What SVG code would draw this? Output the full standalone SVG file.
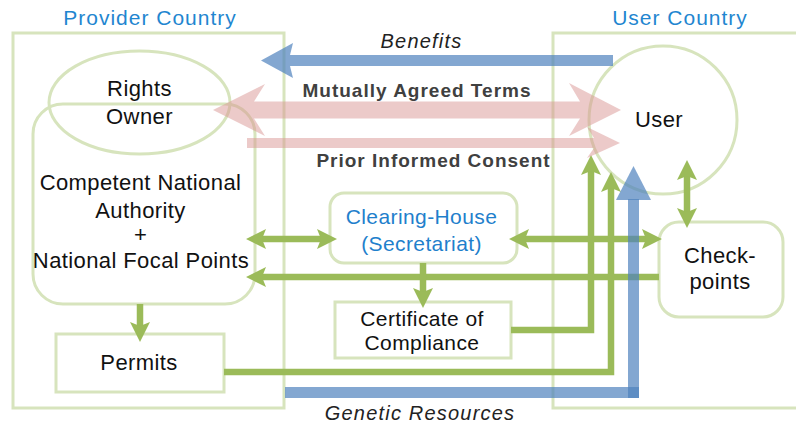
<svg xmlns="http://www.w3.org/2000/svg" width="796" height="427" viewBox="0 0 796 427">
<style>
.box{fill:none;stroke:#d7e4bd;stroke-width:3}
.t{font-family:"Liberation Sans",Arial,sans-serif;font-size:22px;fill:#111;text-anchor:middle;letter-spacing:0.4px}
.s{font-size:21px}
.blue{fill:#1f80cc}
.cty{font-family:"Liberation Sans",Arial,sans-serif;font-size:21px;fill:#1f86d0;text-anchor:middle;letter-spacing:1px}
.lbl{font-family:"Liberation Sans",Arial,sans-serif;font-size:19px;font-weight:bold;fill:#404040;text-anchor:middle;letter-spacing:1px}
.it{font-family:"Liberation Sans",Arial,sans-serif;font-size:20px;font-style:italic;fill:#222;text-anchor:middle;letter-spacing:1.2px}
.g{fill:none;stroke:#9bbb59;stroke-width:6.5}
.pink{fill:#d99594;opacity:0.5}
.bl{fill:#4f81bd;opacity:0.7}
</style>
<defs>
<marker id="ga" viewBox="0 0 20 20" markerWidth="20" markerHeight="20" refX="10" refY="10" markerUnits="userSpaceOnUse" orient="auto-start-reverse">
<path d="M20,10 L0,0 L4,10 L0,20 Z" fill="#9bbb59"/>
</marker>
</defs>

<g id="provider-country">
<rect class="box" x="13" y="33" width="271" height="375"/>
<text class="cty" x="150" y="25">Provider Country</text>
</g>
<g id="user-country">
<rect class="box" x="553" y="33" width="260" height="375"/>
<text class="cty" x="680" y="25">User Country</text>
</g>

<g id="rights-owner">
<ellipse class="box" cx="139.5" cy="102.5" rx="90.5" ry="51.5"/>
<text class="t" x="139.5" y="96">Rights</text>
<text class="t" x="139.5" y="124">Owner</text>
</g>
<g id="cna">
<rect class="box" x="33" y="104" width="222" height="200" rx="30"/>
<text class="t" x="140.5" y="190">Competent National</text>
<text class="t" x="140.5" y="218">Authority</text>
<text class="t" x="140.5" y="242">+</text>
<text class="t" x="141" y="268">National Focal Points</text>
</g>
<g id="permits">
<rect class="box" x="56" y="334" width="168" height="58"/>
<text class="t" x="139" y="370">Permits</text>
</g>
<g id="clearing-house">
<rect class="box" x="330" y="193" width="187" height="70" rx="14"/>
<text class="t s blue" x="421.5" y="224">Clearing-House</text>
<text class="t s blue" x="421.5" y="251">(Secretariat)</text>
</g>
<g id="certificate">
<rect class="box" x="335" y="302" width="176" height="56"/>
<text class="t s" x="422" y="326">Certificate of</text>
<text class="t s" x="422" y="350">Compliance</text>
</g>
<g id="user">
<circle class="box" cx="663" cy="120" r="74"/>
<text class="t" x="659" y="127">User</text>
</g>
<g id="checkpoints">
<rect class="box" x="659" y="222" width="124" height="95" rx="20"/>
<text class="t" x="720" y="263">Check-</text>
<text class="t" x="720" y="289">points</text>
</g>

<g id="connectors">
<path class="g" d="M256,239 H327" marker-start="url(#ga)" marker-end="url(#ga)"/>
<path class="g" d="M659,277 H256" marker-end="url(#ga)"/>
<path class="g" d="M519,239 H652" marker-start="url(#ga)" marker-end="url(#ga)"/>
<path class="g" d="M423,263 V298" marker-end="url(#ga)"/>
<path class="g" d="M140,304 V332" marker-end="url(#ga)"/>
<path class="g" d="M511,330 H591 V165" marker-end="url(#ga)"/>
<path class="g" d="M224,372 H611 V182" marker-end="url(#ga)"/>
<path class="g" d="M687,170 V218" marker-start="url(#ga)" marker-end="url(#ga)"/>

<!-- Genetic Resources -->
<rect class="bl" x="285" y="387" width="354" height="11"/>
<rect class="bl" x="628" y="199" width="11" height="199"/>
<polygon class="bl" points="633.5,166 616,200 651,200"/>
<!-- Benefits -->
<polygon class="bl" points="261,60.5 293,43 290,55 613,55 613,66 290,66 293,78"/>
<!-- MAT -->
<polygon class="pink" points="213,110 265,84 254,101.5 580,101.5 569,83 621,110 569,136 580,118.5 254,118.5 265,136"/>
<!-- PIC -->
<polygon class="pink" points="247,138 594,138 587,127 620,143 587,158 594,148 247,148"/>
</g>

<g id="labels">
<text class="it" x="421.5" y="48">Benefits</text>
<text class="lbl" x="417" y="97">Mutually Agreed Terms</text>
<text class="lbl" x="433.5" y="167">Prior Informed Consent</text>
<text class="it" x="420" y="420">Genetic Resources</text>
</g>
</svg>
